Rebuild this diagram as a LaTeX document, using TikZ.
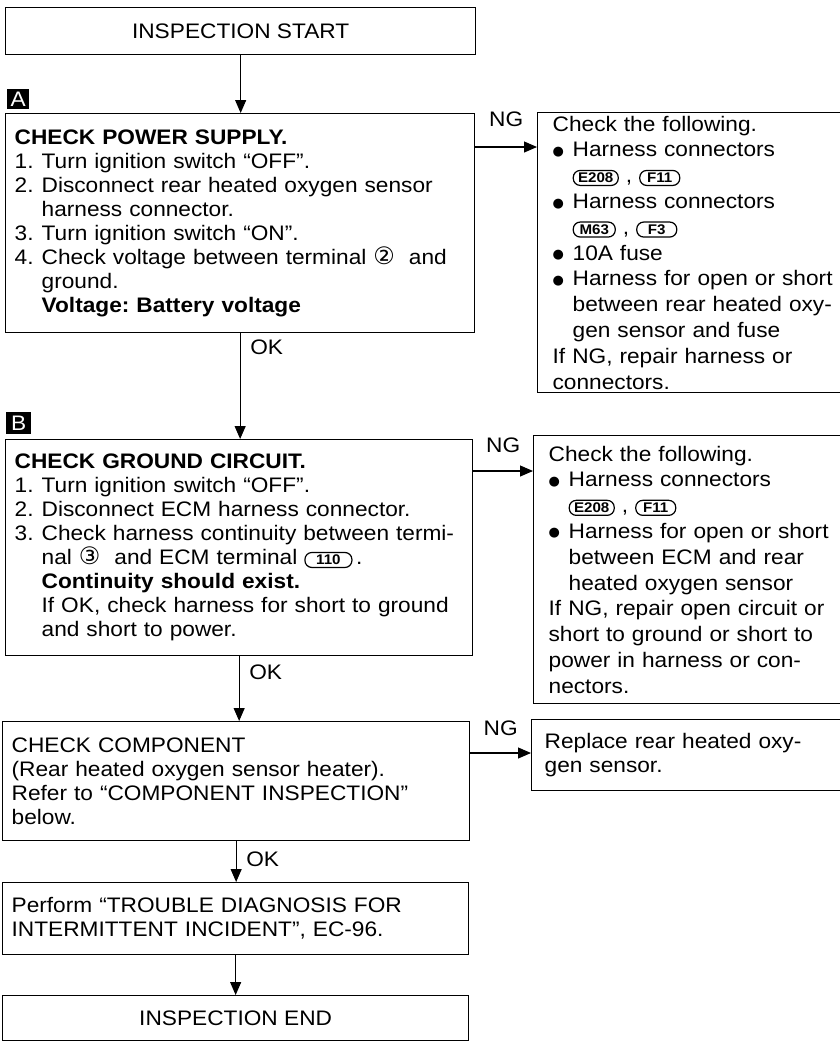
\documentclass[tikz,border=0pt]{standalone}
\usepackage{fontspec}
\setmainfont{Liberation Sans}[FakeStretch=1.08]
\newfontfamily\dejavu{DejaVu Sans}
\usetikzlibrary{arrows.meta,positioning}
\frenchspacing

\newcommand\conn[2][40pt]{\tikz[baseline=(cb.base)]\node[draw,line width=1.2pt,rounded corners=7pt,anchor=center,inner xsep=1pt,inner ysep=1pt,minimum width=#1,minimum height=15pt,text width={},align=center,font=\fontsize{14}{14}\selectfont\bfseries](cb){#2};}
\newcommand\circnum[1]{{\dejavu\fontsize{24}{24}\selectfont #1}}
\newcommand\stepnum[1]{\makebox[27pt][l]{#1}}
\newcommand\contd{\hspace*{27pt}}
\newcommand\bul{\makebox[20pt][l]{\raisebox{1.5pt}{\dejavu\fontsize{13}{13}\selectfont ●}}}
\newcommand\subl{\hspace*{20pt}}

\begin{document}
\begin{tikzpicture}[x=1pt,y=1pt,
    box/.style={draw,line width=1.3pt,anchor=north west,inner xsep=9pt,inner ysep=2pt,align=left,font=\fontsize{21}{24}\selectfont},
    sidebox/.style={box,inner xsep=15pt,inner ysep=0pt,font=\fontsize{21}{25.8}\selectfont},
    endbox/.style={draw,line width=1.3pt,anchor=north west,font=\fontsize{21}{24}\selectfont},
    tag/.style={fill=black,text=white,font=\fontsize{21}{21}\selectfont,minimum width=22pt,minimum height=20pt,inner sep=0pt,anchor=south west},
    arr/.style={line width=1.1pt,-{Triangle[length=13pt,width=11pt]}},
    lbl/.style={font=\fontsize{21}{24}\selectfont,inner sep=0pt}]

\useasboundingbox (0,0) rectangle (839,-1042);

% start
\node[endbox,minimum width=470pt,minimum height=47pt] (start) at (5,-7) {INSPECTION START};

% step A
\node[box,text width=451pt,minimum height=219pt] (chkA) at (5,-113) {%
  \textbf{CHECK POWER SUPPLY.}\\
  \stepnum{1.}Turn ignition switch “OFF”.\\
  \stepnum{2.}Disconnect rear heated oxygen sensor\\
  \contd harness connector.\\
  \stepnum{3.}Turn ignition switch “ON”.\\
  \stepnum{4.}Check voltage between terminal \circnum{②}\ \ and\\
  \contd ground.\\
  \contd\textbf{Voltage: Battery voltage}};
\node[tag] (tagA) at ([xshift=2pt,yshift=4pt]chkA.north west) {A};

\node[sidebox,text width=283pt,minimum height=280pt] (ngA) at (537,-112) {%
  Check the following.\\
  \bul Harness connectors\\
  \subl\conn[45pt]{E208} , \conn{F11}\\
  \bul Harness connectors\\
  \subl\conn[42pt]{M63} , \conn{F3}\\
  \bul 10A fuse\\
  \bul Harness for open or short\\
  \subl between rear heated oxy-\\
  \subl gen sensor and fuse\\
  If NG, repair harness or\\
  connectors.};

% step B
\node[box,text width=449pt,minimum height=216pt] (chkB) at (5,-439) {%
  \textbf{CHECK GROUND CIRCUIT.}\\
  \stepnum{1.}Turn ignition switch “OFF”.\\
  \stepnum{2.}Disconnect ECM harness connector.\\
  \stepnum{3.}Check harness continuity between termi-\\
  \contd nal \circnum{③}\ \ and ECM terminal \conn[47pt]{110}\,.\\
  \contd\textbf{Continuity should exist.}\\
  \contd If OK, check harness for short to ground\\
  \contd and short to power.};
\node[tag,minimum width=25pt,minimum height=22pt] (tagB) at ([xshift=1pt,yshift=5pt]chkB.north west) {B};

\node[sidebox,text width=287pt,minimum height=268pt] (ngB) at (533,-435) {%
  Check the following.\\
  \bul Harness connectors\\
  \subl\conn[45pt]{E208} , \conn{F11}\\
  \bul Harness for open or short\\
  \subl between ECM and rear\\
  \subl heated oxygen sensor\\
  If NG, repair open circuit or\\
  short to ground or short to\\
  power in harness or con-\\
  nectors.};

% component
\node[box,text width=449pt,minimum height=119pt] (chkC) at (2,-721) {%
  CHECK COMPONENT\\
  (Rear heated oxygen sensor heater).\\
  Refer to “COMPONENT INSPECTION”\\
  below.};
\node[box,inner xsep=13pt,text width=290pt,minimum height=71pt] (ngC) at (531,-719) {%
  Replace rear heated oxy-\\
  gen sensor.};

\node[box,text width=448pt,minimum height=72pt] (perform) at (2,-882) {%
  Perform “TROUBLE DIAGNOSIS FOR\\
  INTERMITTENT INCIDENT”, EC-96.};

% end
\node[endbox,minimum width=466pt,minimum height=45pt] (finish) at (2,-995) {INSPECTION END};

% connectors
\draw[arr] (start.south) -- (start.south |- chkA.north);
\draw[arr] (chkA.south) -- (chkA.south |- chkB.north);
\draw[arr] (chkB.south) -- (chkB.south |- chkC.north);
\draw[arr] (chkC.south) -- (chkC.south |- perform.north);
\draw[arr] (perform.south) -- (perform.south |- finish.north);

\coordinate (ngAin) at ([yshift=-35pt]ngA.north west);
\coordinate (ngBin) at ([yshift=-36pt]ngB.north west);
\coordinate (ngCin) at ([yshift=-34pt]ngC.north west);
\draw[arr] (chkA.east |- ngAin) -- node[lbl,above=20pt] (ngAlbl) {NG} (ngAin);
\draw[arr] (chkB.east |- ngBin) -- node[lbl,above=18pt] (ngBlbl) {NG} (ngBin);
\draw[arr] (chkC.east |- ngCin) -- node[lbl,above=17pt] (ngClbl) {NG} (ngCin);

\node[lbl,anchor=north west] (okA) at ([xshift=10pt,yshift=-6pt]chkA.south) {OK};
\node[lbl,anchor=north west] (okB) at ([xshift=10pt,yshift=-8pt]chkB.south) {OK};
\node[lbl,anchor=north west] (okC) at ([xshift=10pt,yshift=-10pt]chkC.south) {OK};
\end{tikzpicture}
\end{document}
